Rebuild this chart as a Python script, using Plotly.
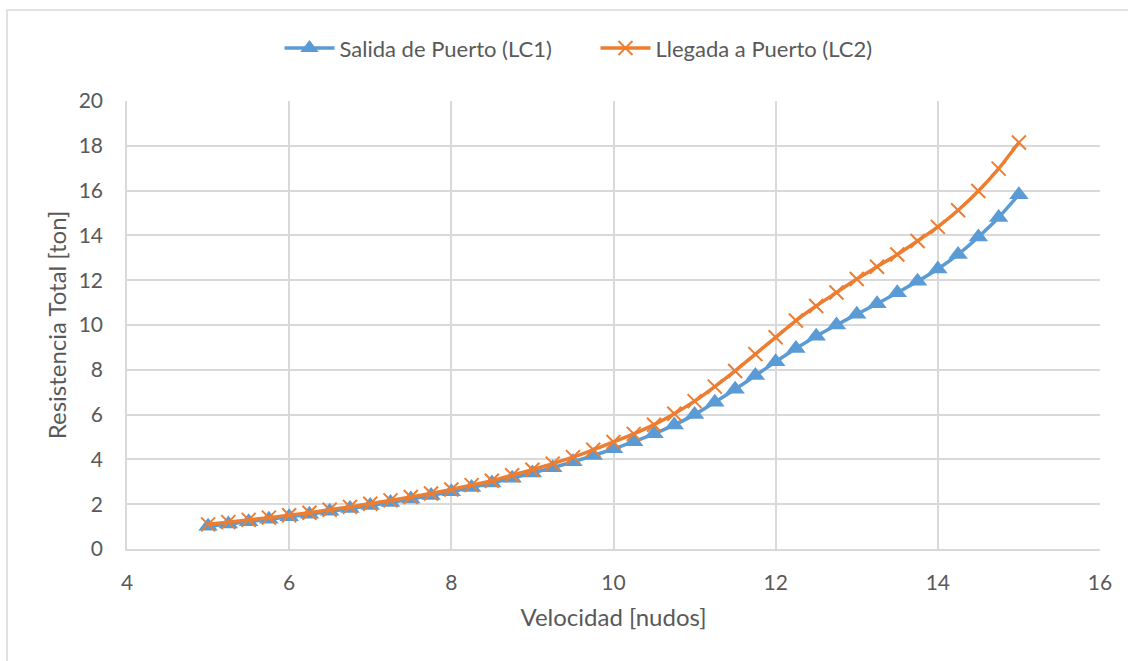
import plotly.graph_objects as go

velocidad = [5.0, 5.25, 5.5, 5.75, 6.0, 6.25, 6.5, 6.75, 7.0, 7.25, 7.5, 7.75, 8.0, 8.25, 8.5, 8.75,
             9.0, 9.25, 9.5, 9.75, 10.0, 10.25, 10.5, 10.75, 11.0, 11.25, 11.5, 11.75, 12.0, 12.25,
             12.5, 12.75, 13.0, 13.25, 13.5, 13.75, 14.0, 14.25, 14.5, 14.75, 15.0]

lc1 = [1.02, 1.12, 1.22, 1.33, 1.44, 1.55, 1.68, 1.81, 1.94, 2.08, 2.23, 2.39, 2.56, 2.75, 2.95,
       3.16, 3.39, 3.63, 3.89, 4.17, 4.47, 4.79, 5.14, 5.54, 6.0, 6.55, 7.13, 7.74, 8.36, 8.95,
       9.5, 10.0, 10.48, 10.95, 11.44, 11.95, 12.5, 13.15, 13.93, 14.8, 15.82]

lc2 = [1.1, 1.2, 1.3, 1.4, 1.51, 1.62, 1.75, 1.88, 2.02, 2.17, 2.32, 2.48, 2.66, 2.85, 3.05,
       3.29, 3.54, 3.81, 4.1, 4.43, 4.78, 5.14, 5.55, 6.04, 6.6, 7.25, 7.95, 8.7, 9.45, 10.2,
       10.85, 11.45, 12.05, 12.6, 13.15, 13.75, 14.38, 15.12, 15.98, 16.98, 18.15]

serie1 = "Salida de Puerto (LC1)"
serie2 = "Llegada a Puerto (LC2)"

FONT = "Lato, 'Open Sans', sans-serif"
TXT = "#595959"
GRID = "#d9d9d9"

fig = go.Figure()
fig.add_trace(go.Scatter(
    x=velocidad, y=lc1, name=serie1, mode="lines+markers",
    line=dict(color="#5b9bd5", width=3.5, shape="spline", smoothing=0.6),
    marker=dict(symbol="triangle-up", size=17, color="#5b9bd5"),
))
fig.add_trace(go.Scatter(
    x=velocidad, y=lc2, name=serie2, mode="lines+markers",
    line=dict(color="#ed7d31", width=3.5, shape="spline", smoothing=0.6),
    marker=dict(symbol="x-thin", size=14, color="#ed7d31",
                line=dict(color="#ed7d31", width=2)),
))

fig.update_layout(
    width=1128, height=661,
    margin=dict(l=127, r=28, t=101, b=112),
    paper_bgcolor="white", plot_bgcolor="white",
    font=dict(family=FONT, color=TXT, size=21),
    showlegend=True,
    legend=dict(orientation="h", x=0.4815, xanchor="center", y=1.118, yanchor="middle",
                font=dict(size=22, color=TXT), itemwidth=50,
                entrywidth=251, entrywidthmode="pixels", traceorder="normal"),
    xaxis=dict(range=[4, 16], dtick=2, showgrid=True, gridcolor=GRID, gridwidth=1.5,
               zeroline=False, showline=True, linecolor=GRID, linewidth=1.5,
               ticks="", tickfont=dict(size=21, color=TXT), ticklabelstandoff=14,
               title=dict(text="Velocidad [nudos]", font=dict(size=24, color=TXT), standoff=16)),
    yaxis=dict(range=[0, 20], dtick=2, showgrid=True, gridcolor=GRID, gridwidth=1.5,
               zeroline=False, showline=True, linecolor=GRID, linewidth=1.5,
               ticks="", tickfont=dict(size=21, color=TXT), ticklabelstandoff=18,
               title=dict(text="Resistencia Total [ton]", font=dict(size=24, color=TXT), standoff=5)),
    shapes=[dict(type="rect", xref="paper", yref="paper",
                 x0=-0.1233, x1=1.045, y0=-0.28, y1=1.2031,
                 line=dict(color=GRID, width=1.5), layer="below")],
)

fig.write_html("out.html", config={"displayModeBar": False},
               post_script="document.body.style.margin='0';document.body.style.padding='0';")
